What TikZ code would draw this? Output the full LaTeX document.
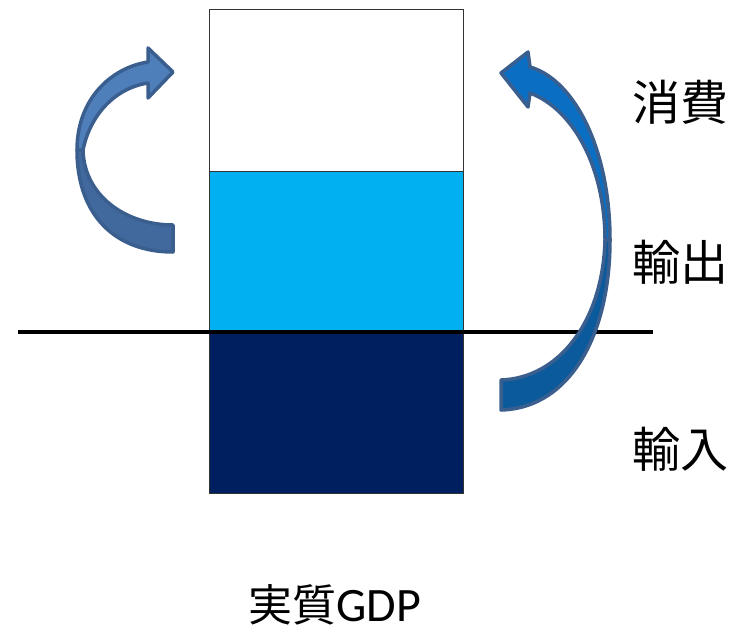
\documentclass[tikz,border=0pt]{standalone}
\usepackage{fontspec}
\newfontfamily\cjk{Noto Sans CJK JP}
\newfontfamily\lat{Carlito}
\definecolor{lblue}{HTML}{00B0F0}
\definecolor{navy}{HTML}{001F5F}
\definecolor{arrB}{HTML}{3A5F8E}
\definecolor{lUp}{HTML}{4E7FBB}
\definecolor{lLo}{HTML}{42699E}
\definecolor{rUp}{HTML}{0A6EC2}
\definecolor{rLo}{HTML}{0A5A9C}
\begin{document}
\begin{tikzpicture}[x=1pt,y=-1pt,
  barbox/.style={draw=black!80,line width=1pt},
  ribbon/.style={draw=arrB,line width=3.5pt,line join=round},
  lbl/.style={font=\cjk\fontsize{48}{56}\selectfont,inner sep=0pt}]
\useasboundingbox (0,0) rectangle (741,633);
% bars
\filldraw[barbox,fill=white] (209,9) rectangle (463,171);
\filldraw[barbox,fill=lblue] (209,171) rectangle (463,331);
\filldraw[barbox,fill=navy] (209,331) rectangle (463,493);
% axis
\coordinate (axL) at (18,332);
\coordinate (axR) at (653,332);
\draw[line width=3.5pt] (axL) -- (axR);
% left arrow
\filldraw[ribbon,fill=lLo] (173,225) .. controls (125,225) and (84,195) .. (83,150)
  -- (77,150) .. controls (77,215) and (115,252) .. (173,252) -- cycle;
\filldraw[ribbon,fill=lUp] (77,150) .. controls (77,100) and (110,68) .. (148,62)
  -- (148,48) -- (173,72) -- (148,98) -- (148,83)
  .. controls (115,88) and (90,115) .. (83,150) -- cycle;
% right arrow
\filldraw[ribbon,fill=rLo] (501,380) .. controls (560,378) and (603,320) .. (605,240)
  -- (610,240) .. controls (610,335) and (570,408) .. (501,410) -- cycle;
\filldraw[ribbon,fill=rUp] (610,240) .. controls (610,150) and (575,80) .. (530,67)
  -- (528,52) -- (501,73) -- (528,107) -- (530,93)
  .. controls (575,110) and (605,170) .. (605,240) -- cycle;
% labels
\node[lbl] (c) at (680,102) {消費};
\node[lbl] (x) at (680,262) {輸出};
\node[lbl] (m) at (680,449) {輸入};
\node[inner sep=0pt] (g) at (335,605) {\cjk\fontsize{44}{50}\selectfont 実質\lat\fontsize{48}{50}\selectfont GDP};
\end{tikzpicture}
\end{document}
